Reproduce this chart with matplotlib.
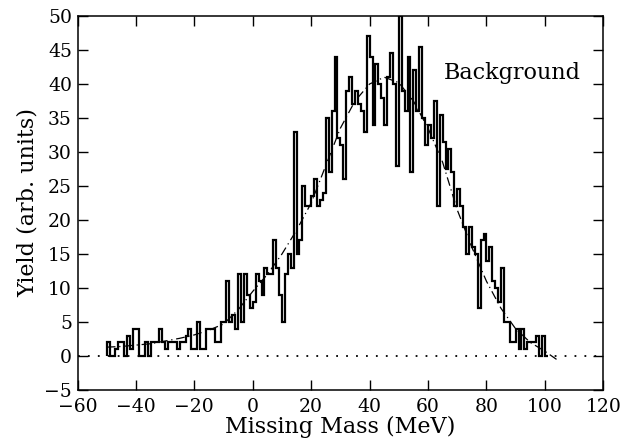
import numpy as np
import matplotlib
matplotlib.use("Agg")
import matplotlib.pyplot as plt

plt.rcParams['font.family'] = ['DejaVu Serif']

# Histogramme : bins de 1 MeV, bord gauche a -50 MeV
bin_start = -50
counts = [
    2, 0, 0, 1, 2, 2, 0, 3, 1, 4,      # -50 .. -41
    4, 0, 0, 2, 0, 2, 2, 2, 4, 2,      # -40 .. -31
    1, 2, 2, 2, 1, 2, 2, 3, 4, 1,      # -30 .. -21
    1, 5, 1, 1, 4, 4, 4, 2, 2, 5,      # -20 .. -11
    5, 11, 5, 6, 4, 12, 5, 12, 9, 7,   # -10 .. -1
    8, 12, 11, 9, 13, 12, 12, 17, 13, 9,   # 0 .. 9
    5, 12, 15, 13, 33, 15, 17, 25, 22, 22,  # 10 .. 19
    23.5, 26, 22, 23, 24, 35, 27, 36, 44, 32,  # 20 .. 29
    31, 26, 39, 41, 37, 39, 37, 36, 33, 47,   # 30 .. 39
    44, 34, 43, 40, 38, 34, 41, 44.5, 40, 28,  # 40 .. 49
    50, 39, 36, 44, 27, 42, 36, 45.5, 35, 31,  # 50 .. 59
    34, 32, 37.5, 22, 35.5, 31.5, 27.5, 30.5, 27, 22,  # 60 .. 69
    24.5, 22, 19, 15, 19, 16, 15, 7, 17, 18,   # 70 .. 79
    14, 16, 11, 10, 8, 13, 5, 5, 2, 2,         # 80 .. 89
    4, 1, 4, 1, 2, 2, 2, 3, 0, 3,              # 90 .. 99
    0,                                          # 100
]
edges = np.arange(bin_start, bin_start + len(counts) + 1)

# Courbe d'ajustement
fit_x = [-50, -45, -40, -35, -30, -25, -20, -15, -10, -5, 0, 5, 10, 15, 20,
         25, 30, 35, 40, 45, 50, 55, 60, 65, 70, 75, 80, 85, 90, 95, 100, 104]
fit_y = [1.3, 1.4, 1.6, 1.8, 2.2, 2.6, 3.1, 3.8, 4.7, 6.8, 9.5, 12, 15, 18.5, 22.5,
         28, 33.5, 37.5, 40, 41, 40.2, 37.5, 33.5, 28.5, 21.5, 16, 11, 7, 4, 2, 0.7, -0.5]

fig = plt.figure(figsize=(6.2, 4.46), dpi=100)
ax = fig.add_axes([0.125, 0.1256, 0.848, 0.8385])

ax.axhline(0, color='black', lw=1.3, linestyle=(0, (1, 4.5)))
ax.stairs(counts, edges, baseline=0, color='black', lw=1.6)
ax.plot(fit_x, fit_y, color='black', lw=0.9, dashes=(7, 3, 1, 3))

ax.text(65.5, 41.6, 'Background', fontsize=16, va='center', ha='left')

ax.set_xlim(-60, 120)
ax.set_ylim(-5, 50)
ax.set_xticks(np.arange(-60, 121, 20))
ax.set_yticks(np.arange(-5, 51, 5))
ax.tick_params(direction='in', length=7, width=1, top=True, right=True,
               labelsize=13.5, pad=4)
ax.tick_params(axis='x', pad=6)
ax.set_xlabel('Missing Mass (MeV)', fontsize=16, labelpad=0)
ax.set_ylabel('Yield (arb. units)', fontsize=16, labelpad=4)
for s in ax.spines.values():
    s.set_linewidth(1.1)

fig.savefig('out.png', dpi=100)
